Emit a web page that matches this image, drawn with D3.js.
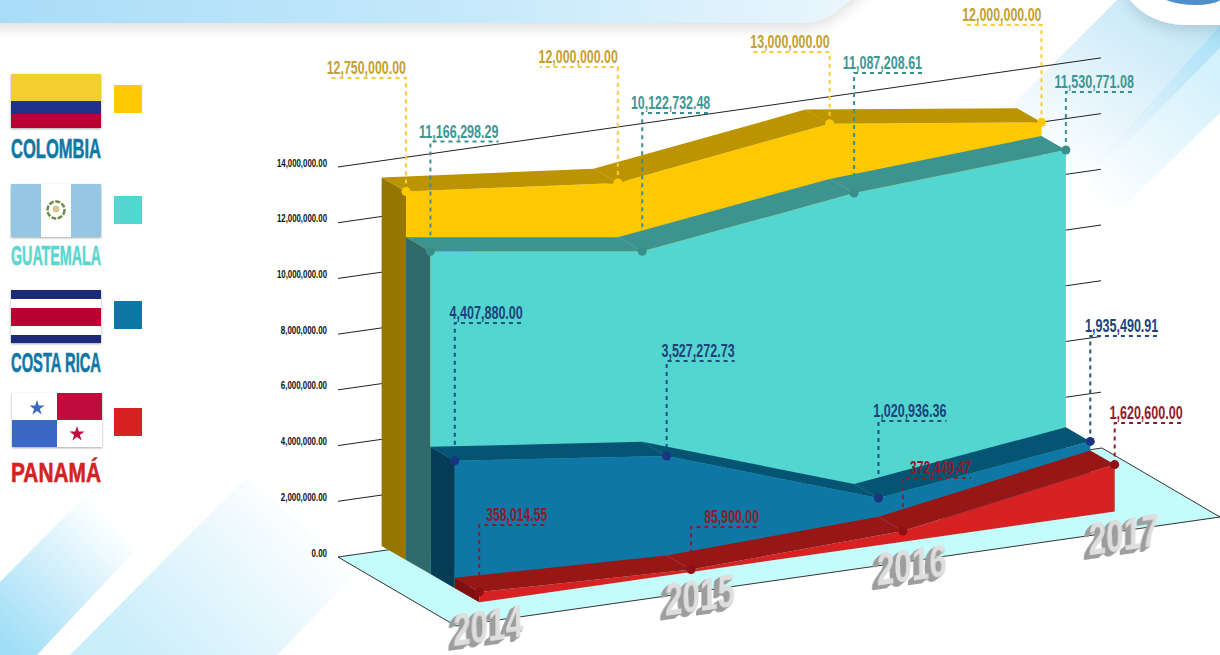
<!DOCTYPE html>
<html>
<head>
<meta charset="utf-8">
<title>Inversión 2014-2017</title>
<script src="https://cdn.jsdelivr.net/npm/d3@7/dist/d3.min.js"></script>
<style>
  html, body { margin: 0; padding: 0; background: #fff; }
  svg { display: block; }
  text { font-family: "Liberation Sans Narrow", "Liberation Sans", sans-serif; }
</style>
</head>
<body>
<svg id="chart" width="1220" height="655"></svg>
<script>
const years = ["2014", "2015", "2016", "2017"];
const countries = ["COLOMBIA", "GUATEMALA", "COSTA RICA", "PANAMÁ"];
const colombia = [12750000.00, 12000000.00, 13000000.00, 12000000.00];
const guatemala = [11166298.29, 10122732.48, 11087208.61, 11530771.08];
const costaRica = [4407880.00, 3527272.73, 1020936.36, 1935490.91];
const panama = [358014.55, 85900.00, 372449.47, 1620600.00];
const axisTicks = [0, 2000000, 4000000, 6000000, 8000000, 10000000, 12000000, 14000000];

// height of each callout elbow
const colombiaCallouts = [78, 67, 52, 25];
const guatemalaCallouts = [141.5, 113, 73, 92];
const costaRicaCallouts = [323, 361, 421, 336];
const panamaCallouts = [525, 527, 478, 423];

const seriesList = [
  { values: colombia, callouts: colombiaCallouts, front: "#ffc800", top: "#bc9400", side: "#937700", dot: "#ffc800", leader: "#fbca35", label: "#c4a02f", reach: -78, leaderOnTop: true },
  { values: guatemala, callouts: guatemalaCallouts, front: "#54d6d0", top: "#3d9390", side: "#2f6b6b", dot: "#3a8f8c", leader: "#3a8f8c", label: "#3e9694", reach: 68 },
  { values: costaRica, callouts: costaRicaCallouts, front: "#0e77a5", top: "#055474", side: "#063c55", dot: "#1a3580", leader: "#21507e", label: "#1c4279", reach: 68 },
  { values: panama, callouts: panamaCallouts, front: "#d62222", top: "#971616", side: "#7f0f0f", dot: "#8f0f15", leader: "#8b1d2b", label: "#8b1d2b", reach: 68 }
];

const svg = d3.select("#chart");
const defs = svg.append("defs");

// projection of the 3D chart
const originX = 406;
const originY = 560;
const timeSlope = -0.143;
const depthSlope = 0.578;

const timeScale = d3.scaleLinear().domain([0, 3]).range([0, 635.5]);
const depthScale = d3.scaleLinear().domain([0, 3]).range([0, 73.2]);
const valueScale = d3.scaleLinear().domain([0, 14000000]).range([0, 404.6]);
const wallScale = d3.scaleLinear().domain([0, 14000000]).range([557, 167]);

function project(t, layer, value) {
  const tx = timeScale(t);
  const dx = depthScale(layer);
  return [
    originX + tx + dx,
    originY + tx * timeSlope + dx * depthSlope - valueScale(value)
  ];
}

const polygon = d3.line();
function closed(points) {
  return polygon(points) + "Z";
}

function addGradient(id, x1, y1, x2, y2, color, from, to) {
  const g = defs.append("linearGradient")
    .attr("id", id)
    .attr("gradientUnits", "userSpaceOnUse")
    .attr("x1", x1).attr("y1", y1).attr("x2", x2).attr("y2", y2);
  g.append("stop").attr("offset", 0).attr("stop-color", color).attr("stop-opacity", from);
  g.append("stop").attr("offset", 1).attr("stop-color", color).attr("stop-opacity", to);
}

function addFilters() {
  const shadow = defs.append("filter").attr("id", "softShadow")
    .attr("x", "-10%").attr("y", "-50%").attr("width", "120%").attr("height", "300%");
  shadow.append("feDropShadow").attr("dx", 0).attr("dy", 5).attr("stdDeviation", 7)
    .attr("flood-color", "#000").attr("flood-opacity", 0.13);

  const flagShadow = defs.append("filter").attr("id", "flagShadow")
    .attr("x", "-10%").attr("y", "-10%").attr("width", "120%").attr("height", "120%");
  flagShadow.append("feDropShadow").attr("dx", 0).attr("dy", 1).attr("stdDeviation", 1.2)
    .attr("flood-color", "#000").attr("flood-opacity", 0.35);

  // extruded look of the year labels: copies of the glyphs pushed down and left
  const extrude = defs.append("filter").attr("id", "extrude")
    .attr("x", "-30%").attr("y", "-30%").attr("width", "160%").attr("height", "160%");
  const steps = d3.range(1, 8);
  steps.forEach(function (k) {
    extrude.append("feOffset")
      .attr("in", "SourceAlpha")
      .attr("dx", -k * 0.9)
      .attr("dy", k * 0.5)
      .attr("result", "step" + k);
  });
  const stack = extrude.append("feMerge").attr("result", "depth");
  steps.forEach(function (k) {
    stack.append("feMergeNode").attr("in", "step" + k);
  });
  extrude.append("feFlood").attr("flood-color", "#9d9d9d").attr("result", "tone");
  extrude.append("feComposite").attr("in", "tone").attr("in2", "depth")
    .attr("operator", "in").attr("result", "sides");
  const all = extrude.append("feMerge");
  all.append("feMergeNode").attr("in", "sides");
  all.append("feMergeNode").attr("in", "SourceGraphic");
}

function drawBackground() {
  addGradient("stripeA", 10, 650, 125, 530, "#9adcf6", 0.95, 0);
  addGradient("stripeB", 130, 655, 300, 500, "#a9e2f8", 0.62, 0);
  addGradient("stripeC", 1170, 0, 1060, 175, "#a9dcf3", 0.7, 0);
  addGradient("stripeD", 1220, 40, 1090, 180, "#8fd6f5", 0.75, 0);
  addGradient("stripeE", 1220, 80, 1100, 210, "#a9e2f8", 0.5, 0);

  const bg = svg.append("g");
  bg.append("path").attr("fill", "url(#stripeA)")
    .attr("d", closed([[0, 582], [93, 488], [173, 510], [37, 655], [0, 655]]));
  bg.append("path").attr("fill", "url(#stripeB)")
    .attr("d", closed([[70, 655], [247, 477], [357, 573], [277, 655]]));
  bg.append("path").attr("fill", "url(#stripeC)")
    .attr("d", closed([[1117, 0], [1220, 0], [1220, 25], [1070, 197], [1010, 107]]));
  bg.append("path").attr("fill", "url(#stripeD)")
    .attr("d", closed([[1220, 25], [1220, 48], [1100, 170], [1075, 190]]));
  bg.append("path").attr("fill", "url(#stripeE)")
    .attr("d", closed([[1220, 48], [1220, 113], [1123, 207], [1070, 197], [1100, 170]]));

  const banner = defs.append("linearGradient").attr("id", "banner");
  banner.append("stop").attr("offset", 0).attr("stop-color", "#a8dcf8");
  banner.append("stop").attr("offset", 0.55).attr("stop-color", "#c6e9fb");
  banner.append("stop").attr("offset", 1).attr("stop-color", "#ecf7fd");

  bg.append("path").attr("fill", "url(#banner)").attr("filter", "url(#softShadow)")
    .attr("d", "M-20,-20H875Q850,0 838,10Q822,23 800,23H-20Z");

  bg.append("path").attr("fill", "#fff").attr("filter", "url(#softShadow)")
    .attr("d", "M1130,-20V0Q1150,24 1185,25H1240V-20Z");
  bg.append("path").attr("fill", "#4f8fcc")
    .attr("d", "M1166,0Q1178,5 1197,5Q1212,5 1221,0Z");
}

function drawWall() {
  const wall = svg.append("g");
  const format = d3.format(",.2f");
  const floorLeft = [338, 557];
  const floorBack = [1102, 448];
  const floorFront = [456, 626];
  const floorRight = [1220, 517];

  wall.append("path")
    .attr("d", closed([floorLeft, floorBack, floorRight, floorFront]))
    .attr("fill", "#c4fbfb")
    .attr("stroke", "#333")
    .attr("stroke-width", 1);

  wall.selectAll("line.grid")
    .data(axisTicks.filter(d => d > 0))
    .join("line")
    .attr("class", "grid")
    .attr("x1", 338)
    .attr("y1", d => wallScale(d))
    .attr("x2", 1101)
    .attr("y2", d => wallScale(d) + 763 * timeSlope)
    .attr("stroke", "#222")
    .attr("stroke-width", 1);

  wall.selectAll("text.tick")
    .data(axisTicks)
    .join("text")
    .attr("class", "tick")
    .attr("x", 327)
    .attr("y", d => wallScale(d) - 0.5)
    .attr("text-anchor", "end")
    .attr("font-size", 11)
    .attr("font-weight", "bold")
    .attr("fill", "#111")
    .attr("textLength", d => format(d).length * 3.85)
    .attr("lengthAdjust", "spacingAndGlyphs")
    .text(format);
}

function drawLeader(series, i) {
  const g = svg.append("g");
  const format = d3.format(",.2f");
  series.values.forEach(function (value, t) {
    const p = project(t, i, value);
    const elbow = series.callouts[t];
    const endX = series.reach < 0 ? p[0] : p[0] + series.reach;

    g.append("path")
      .attr("d", d3.line()([[p[0], p[1]], [p[0], elbow], [p[0] + series.reach, elbow]]))
      .attr("fill", "none")
      .attr("stroke", series.leader)
      .attr("stroke-width", 2)
      .attr("stroke-dasharray", "4 4");

    g.append("text")
      .attr("x", endX)
      .attr("y", elbow - 4)
      .attr("text-anchor", "end")
      .attr("font-size", 18)
      .attr("font-weight", "bold")
      .attr("fill", series.label)
      .attr("textLength", format(value).length * 6.1)
      .attr("lengthAdjust", "spacingAndGlyphs")
      .text(format(value));
  });
}

function drawLayer(series, i) {
  const g = svg.append("g");
  const ts = series.values.map((v, t) => t);
  const frontTop = ts.map(t => project(t, i, series.values[t]));
  const backTop = ts.map(t => project(t, i - 1, series.values[t]));
  const frontBase = ts.map(t => project(t, i, 0));

  // side wall on the 2014 end
  g.append("path")
    .attr("d", closed([backTop[0], frontTop[0], frontBase[0], project(0, i - 1, 0)]))
    .attr("fill", series.side);

  // front face
  g.append("path")
    .attr("d", closed(frontTop.concat(frontBase.slice().reverse())))
    .attr("fill", series.front);

  // sloping top ribbon
  g.append("path")
    .attr("d", closed(frontTop.concat(backTop.slice().reverse())))
    .attr("fill", series.top);

  // faint creases where the ribbon bends
  [1, 2].forEach(function (t) {
    g.append("path")
      .attr("d", d3.line()([backTop[t], frontTop[t]]))
      .attr("stroke", "#fff")
      .attr("stroke-opacity", 0.12)
      .attr("stroke-width", 1);
  });
}

function drawDots(series, i) {
  svg.append("g").selectAll("circle")
    .data(series.values)
    .join("circle")
    .attr("cx", (d, t) => project(t, i, d)[0])
    .attr("cy", (d, t) => project(t, i, d)[1])
    .attr("r", 4.5)
    .attr("fill", series.dot);
}

function drawYears() {
  years.forEach(function (year, t) {
    const base = project(t, 3, 0);
    svg.append("text")
      .attr("transform", `translate(${base[0] + 9},${base[1] + 39}) skewY(-8)`)
      .attr("text-anchor", "middle")
      .attr("font-size", 46)
      .attr("font-weight", "bold")
      .attr("fill", "#dedede")
      .attr("filter", "url(#extrude)")
      .attr("textLength", 70)
      .attr("lengthAdjust", "spacingAndGlyphs")
      .text(year);
  });
}

function rect(g, x, y, w, h, fill) {
  g.append("rect").attr("x", x).attr("y", y).attr("width", w).attr("height", h).attr("fill", fill);
}

function drawLegend() {
  const g = svg.append("g");

  // Colombia
  const col = g.append("g").attr("filter", "url(#flagShadow)");
  rect(col, 11, 74, 90, 27, "#f2cf2e");
  rect(col, 11, 101, 90, 13, "#22308c");
  rect(col, 11, 114, 90, 14, "#bb0033");

  // Guatemala
  const gua = g.append("g").attr("filter", "url(#flagShadow)");
  rect(gua, 11, 184, 90, 53, "#95c6e3");
  rect(gua, 41, 184, 30, 53, "#fff");
  gua.append("circle").attr("cx", 56).attr("cy", 210).attr("r", 8.5)
    .attr("fill", "none").attr("stroke", "#6f8a4a").attr("stroke-width", 2.5)
    .attr("stroke-dasharray", "5 1.5");
  gua.append("circle").attr("cx", 56).attr("cy", 209).attr("r", 3.5).attr("fill", "#d9c58f");

  // Costa Rica
  const cri = g.append("g").attr("filter", "url(#flagShadow)");
  rect(cri, 11, 290, 90, 53, "#fff");
  rect(cri, 11, 290, 90, 9, "#1f2a7a");
  rect(cri, 11, 308, 90, 18, "#bb0033");
  rect(cri, 11, 335, 90, 8, "#1f2a7a");

  // Panama
  const pan = g.append("g").attr("filter", "url(#flagShadow)");
  rect(pan, 12, 393, 45, 27, "#fff");
  rect(pan, 57, 393, 45, 27, "#be0b3e");
  rect(pan, 12, 420, 45, 27, "#3a67c4");
  rect(pan, 57, 420, 45, 27, "#fff");
  const star = d3.symbol().type(d3.symbolStar).size(70)();
  pan.append("path").attr("d", star).attr("transform", "translate(37,408)").attr("fill", "#3a67c4");
  pan.append("path").attr("d", star).attr("transform", "translate(77,434)").attr("fill", "#be0b3e");

  const swatchY = [85, 196, 301, 408];
  const nameY = [158, 265, 372, 482];
  const nameColors = ["#0f77a6", "#5ad6d0", "#0f77a6", "#d42222"];

  countries.forEach(function (name, i) {
    rect(g, 114, swatchY[i], 28, 28, seriesList[i].front);
    g.append("text")
      .attr("x", 11)
      .attr("y", nameY[i])
      .attr("font-size", 28)
      .attr("font-weight", "bold")
      .attr("fill", nameColors[i])
      .attr("stroke", nameColors[i])
      .attr("stroke-width", 0.6)
      .attr("textLength", 90)
      .attr("lengthAdjust", "spacingAndGlyphs")
      .text(name);
  });
}

addFilters();
drawBackground();
drawWall();
drawLegend();

seriesList.forEach(function (series, i) {
  if (!series.leaderOnTop) drawLeader(series, i);
  drawLayer(series, i);
  if (series.leaderOnTop) drawLeader(series, i);
  drawDots(series, i);
});

drawYears();
</script>
</body>
</html>
